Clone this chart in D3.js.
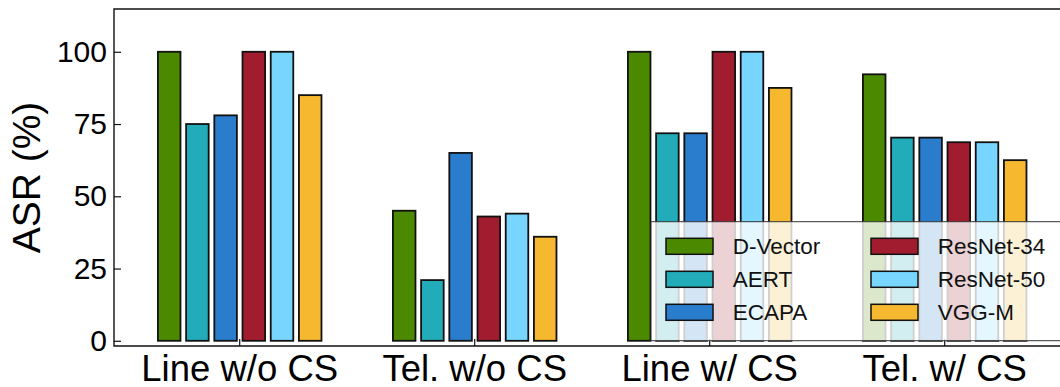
<!DOCTYPE html>
<html>
<head>
<meta charset="utf-8">
<script src="https://cdn.jsdelivr.net/npm/d3@7"></script>
<style>
  body { margin: 0; background: #fff; }
  svg { display: block; font-family: "Liberation Sans", Arial, sans-serif; }
</style>
</head>
<body>
<div id="chart"></div>
<script>
// Data
var categories = ["Line w/o CS", "Tel. w/o CS", "Line w/ CS", "Tel. w/ CS"];
var models = ["D-Vector", "AERT", "ECAPA", "ResNet-34", "ResNet-50", "VGG-M"];
var colors = ["#4b8a00", "#22abb9", "#2a7ccc", "#a21c30", "#78d6fe", "#f5b82f"];
var values = {
  "D-Vector":  [100, 45, 100, 92.2],
  "AERT":      [75, 21, 71.8, 70.3],
  "ECAPA":     [78, 65, 71.8, 70.3],
  "ResNet-34": [100, 43, 100, 68.7],
  "ResNet-50": [100, 44, 100, 68.7],
  "VGG-M":     [85, 36, 87.5, 62.5]
};
var yTicks = [0, 25, 50, 75, 100];

var width = 1060, height = 387;
var plot = {left: 114, top: 9, bottom: 346, right: 1060};

var svg = d3.select("#chart")
  .append("svg")
    .attr("width", width)
    .attr("height", height);

// Scales
var x0 = d3.scaleBand()
  .domain(categories)
  .range([122.2, 1062.2]);

var x1 = d3.scaleBand()
  .domain(models)
  .range([-84.6, 84.6])
  .paddingInner(0.2)
  .paddingOuter(0.1);

var y = d3.scaleLinear()
  .domain([-1.8, 114.8])
  .range([plot.bottom, plot.top]);

var color = d3.scaleOrdinal().domain(models).range(colors);

// Bars
var groups = svg.append("g")
  .selectAll("g")
  .data(categories)
  .enter()
  .append("g")
    .attr("transform", d => `translate(${x0(d) + x0.bandwidth() / 2},0)`);

groups.selectAll("rect")
  .data((c, i) => models.map(m => ({model: m, value: values[m][i]})))
  .enter()
  .append("rect")
    .attr("x", d => x1(d.model))
    .attr("width", x1.bandwidth())
    .attr("y", d => y(d.value))
    .attr("height", d => y(0) - y(d.value))
    .attr("fill", d => color(d.model))
    .attr("stroke", "#111")
    .attr("stroke-width", 1.8);

// Frame
svg.append("path")
  .attr("d", `M${plot.right},${plot.top}H${plot.left}V${plot.bottom}H${plot.right}`)
  .attr("fill", "none")
  .attr("stroke", "#111")
  .attr("stroke-width", 1.4);

// Y axis
var yAxis = svg.append("g")
  .attr("transform", `translate(${plot.left},0)`)
  .call(d3.axisLeft(y).tickValues(yTicks).tickSize(-7).tickPadding(7));
yAxis.select(".domain").remove();
yAxis.selectAll(".tick line").attr("stroke", "#111").attr("stroke-width", 1.2);
yAxis.selectAll("text")
  .attr("font-size", 30)
  .attr("font-family", "Liberation Sans, Arial, sans-serif")
  .attr("fill", "#000");

// X axis
var xAxis = svg.append("g")
  .attr("transform", `translate(0,${plot.bottom})`)
  .call(d3.axisBottom(x0).tickSize(-7).tickPadding(9));
xAxis.select(".domain").remove();
xAxis.selectAll(".tick line").attr("stroke", "#111").attr("stroke-width", 1.2);
xAxis.selectAll("text")
  .attr("font-size", 36.5)
  .attr("font-family", "Liberation Sans, Arial, sans-serif")
  .attr("fill", "#000");

// Y label
svg.append("text")
  .attr("transform", "translate(40,177.5) rotate(-90)")
  .attr("text-anchor", "middle")
  .attr("font-size", 39)
  .attr("fill", "#000")
  .text("ASR (%)");

// Legend
var legend = svg.append("g");
legend.append("rect")
  .attr("x", 651)
  .attr("y", 221.7)
  .attr("width", 430)
  .attr("height", 119)
  .attr("fill", "#fff")
  .attr("fill-opacity", 0.8)
  .attr("stroke", "#333")
  .attr("stroke-width", 1);

var items = legend.selectAll("g.item")
  .data(models)
  .enter()
  .append("g")
    .attr("class", "item")
    .attr("transform", (d, i) => `translate(${i < 3 ? 666 : 871},${238.3 + (i % 3) * 33})`);

items.append("rect")
  .attr("width", 47)
  .attr("height", 16)
  .attr("fill", d => color(d))
  .attr("stroke", "#111")
  .attr("stroke-width", 1.5);

items.append("text")
  .attr("x", 66.7)
  .attr("y", 8)
  .attr("dy", "0.36em")
  .attr("font-size", 22.5)
  .attr("fill", "#111")
  .text(d => d);
</script>
</body>
</html>
